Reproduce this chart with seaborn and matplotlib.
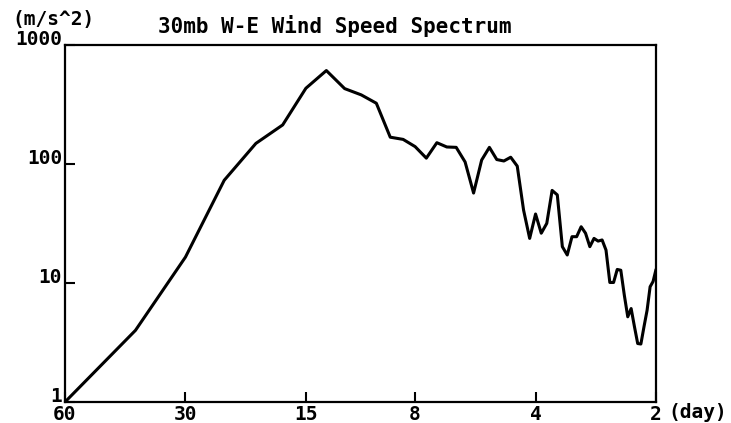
import matplotlib
matplotlib.use("Agg")
import matplotlib.pyplot as plt
import matplotlib.ticker as mticker
import numpy as np
import pandas as pd
import seaborn as sns

# Spectral estimates at harmonics k of a 120-day record (period = 120/k days)
harmonic = list(range(2, 61))
power = [
    1.0, 4.0, 16.5, 73.0, 149.0, 213.0, 433.0, 610.0, 430.0, 381.0,
    324.0, 168.0, 161.0, 140.0, 112.0, 151.0, 139.0, 138.0, 104.0, 57.0,
    108.0, 138.0, 109.0, 106.0, 114.0, 96.0, 41.0, 23.7, 38.0, 26.2,
    31.7, 60.0, 55.0, 20.2, 17.2, 24.5, 24.5, 29.7, 26.2, 20.2,
    23.7, 22.5, 23.0, 18.9, 10.1, 10.1, 13.0, 12.8, 7.9, 5.2,
    6.1, 4.3, 3.1, 3.07, 4.3, 5.9, 9.3, 10.3, 13.0,
]
record_days = 120.0

period_ticks = [60, 30, 15, 8, 4, 2]
period_labels = ["60", "30", "15", "8", "4", "2"]
power_ticks = [1, 10, 100, 1000]
power_labels = ["1", "10", "100", "1000"]

df = pd.DataFrame({
    "period": [record_days / k for k in harmonic],
    "power": power,
})

sns.set_theme(style="white")
plt.rcParams["font.family"] = ["DejaVu Sans Mono", "DejaVu Sans"]
plt.rcParams["font.weight"] = "bold"

W, H = 731, 423
fig = plt.figure(figsize=(W / 100, H / 100), dpi=100)
fig.patch.set_facecolor("white")
ax = fig.add_axes([65 / W, (H - 402) / H, (656 - 65) / W, (402 - 45) / H])
ax.set_facecolor("white")

sns.lineplot(data=df, x="period", y="power", ax=ax, color="black",
             linewidth=2.2, sort=False, legend=False)

ax.set_xscale("log", base=2)
ax.set_yscale("log")
ax.set_xlim(60, 2)
ax.set_ylim(1, 1000)

ax.xaxis.set_major_locator(mticker.FixedLocator(period_ticks))
ax.xaxis.set_major_formatter(mticker.FixedFormatter(period_labels))
ax.yaxis.set_major_locator(mticker.FixedLocator(power_ticks))
ax.yaxis.set_major_formatter(mticker.FixedFormatter(power_labels))
ax.xaxis.set_minor_locator(mticker.NullLocator())
ax.yaxis.set_minor_locator(mticker.NullLocator())

ax.tick_params(axis="both", which="major", direction="in", length=7,
               width=1.5, color="black", labelsize=14, labelcolor="black",
               top=False, right=False, bottom=True, left=True)
ax.tick_params(axis="x", pad=2)
ax.tick_params(axis="y", pad=2)
for lab in ax.get_yticklabels():
    lab.set_verticalalignment("baseline")

for side in ax.spines.values():
    side.set_visible(True)
    side.set_color("black")
    side.set_linewidth(1.6)

ax.set_xlabel("")
ax.set_ylabel("")
ax.grid(False)

fig.text(335 / W, 1 - 33 / H, "30mb W-E Wind Speed Spectrum", ha="center",
         va="baseline", fontsize=15, color="black")
fig.text(12 / W, 1 - 25 / H, "(m/s^2)", ha="left", va="baseline",
         fontsize=14, color="black")
fig.text(668 / W, 1 - 418 / H, "(day)", ha="left", va="baseline",
         fontsize=14, color="black")

fig.savefig("out.png", dpi=100, facecolor="white")
